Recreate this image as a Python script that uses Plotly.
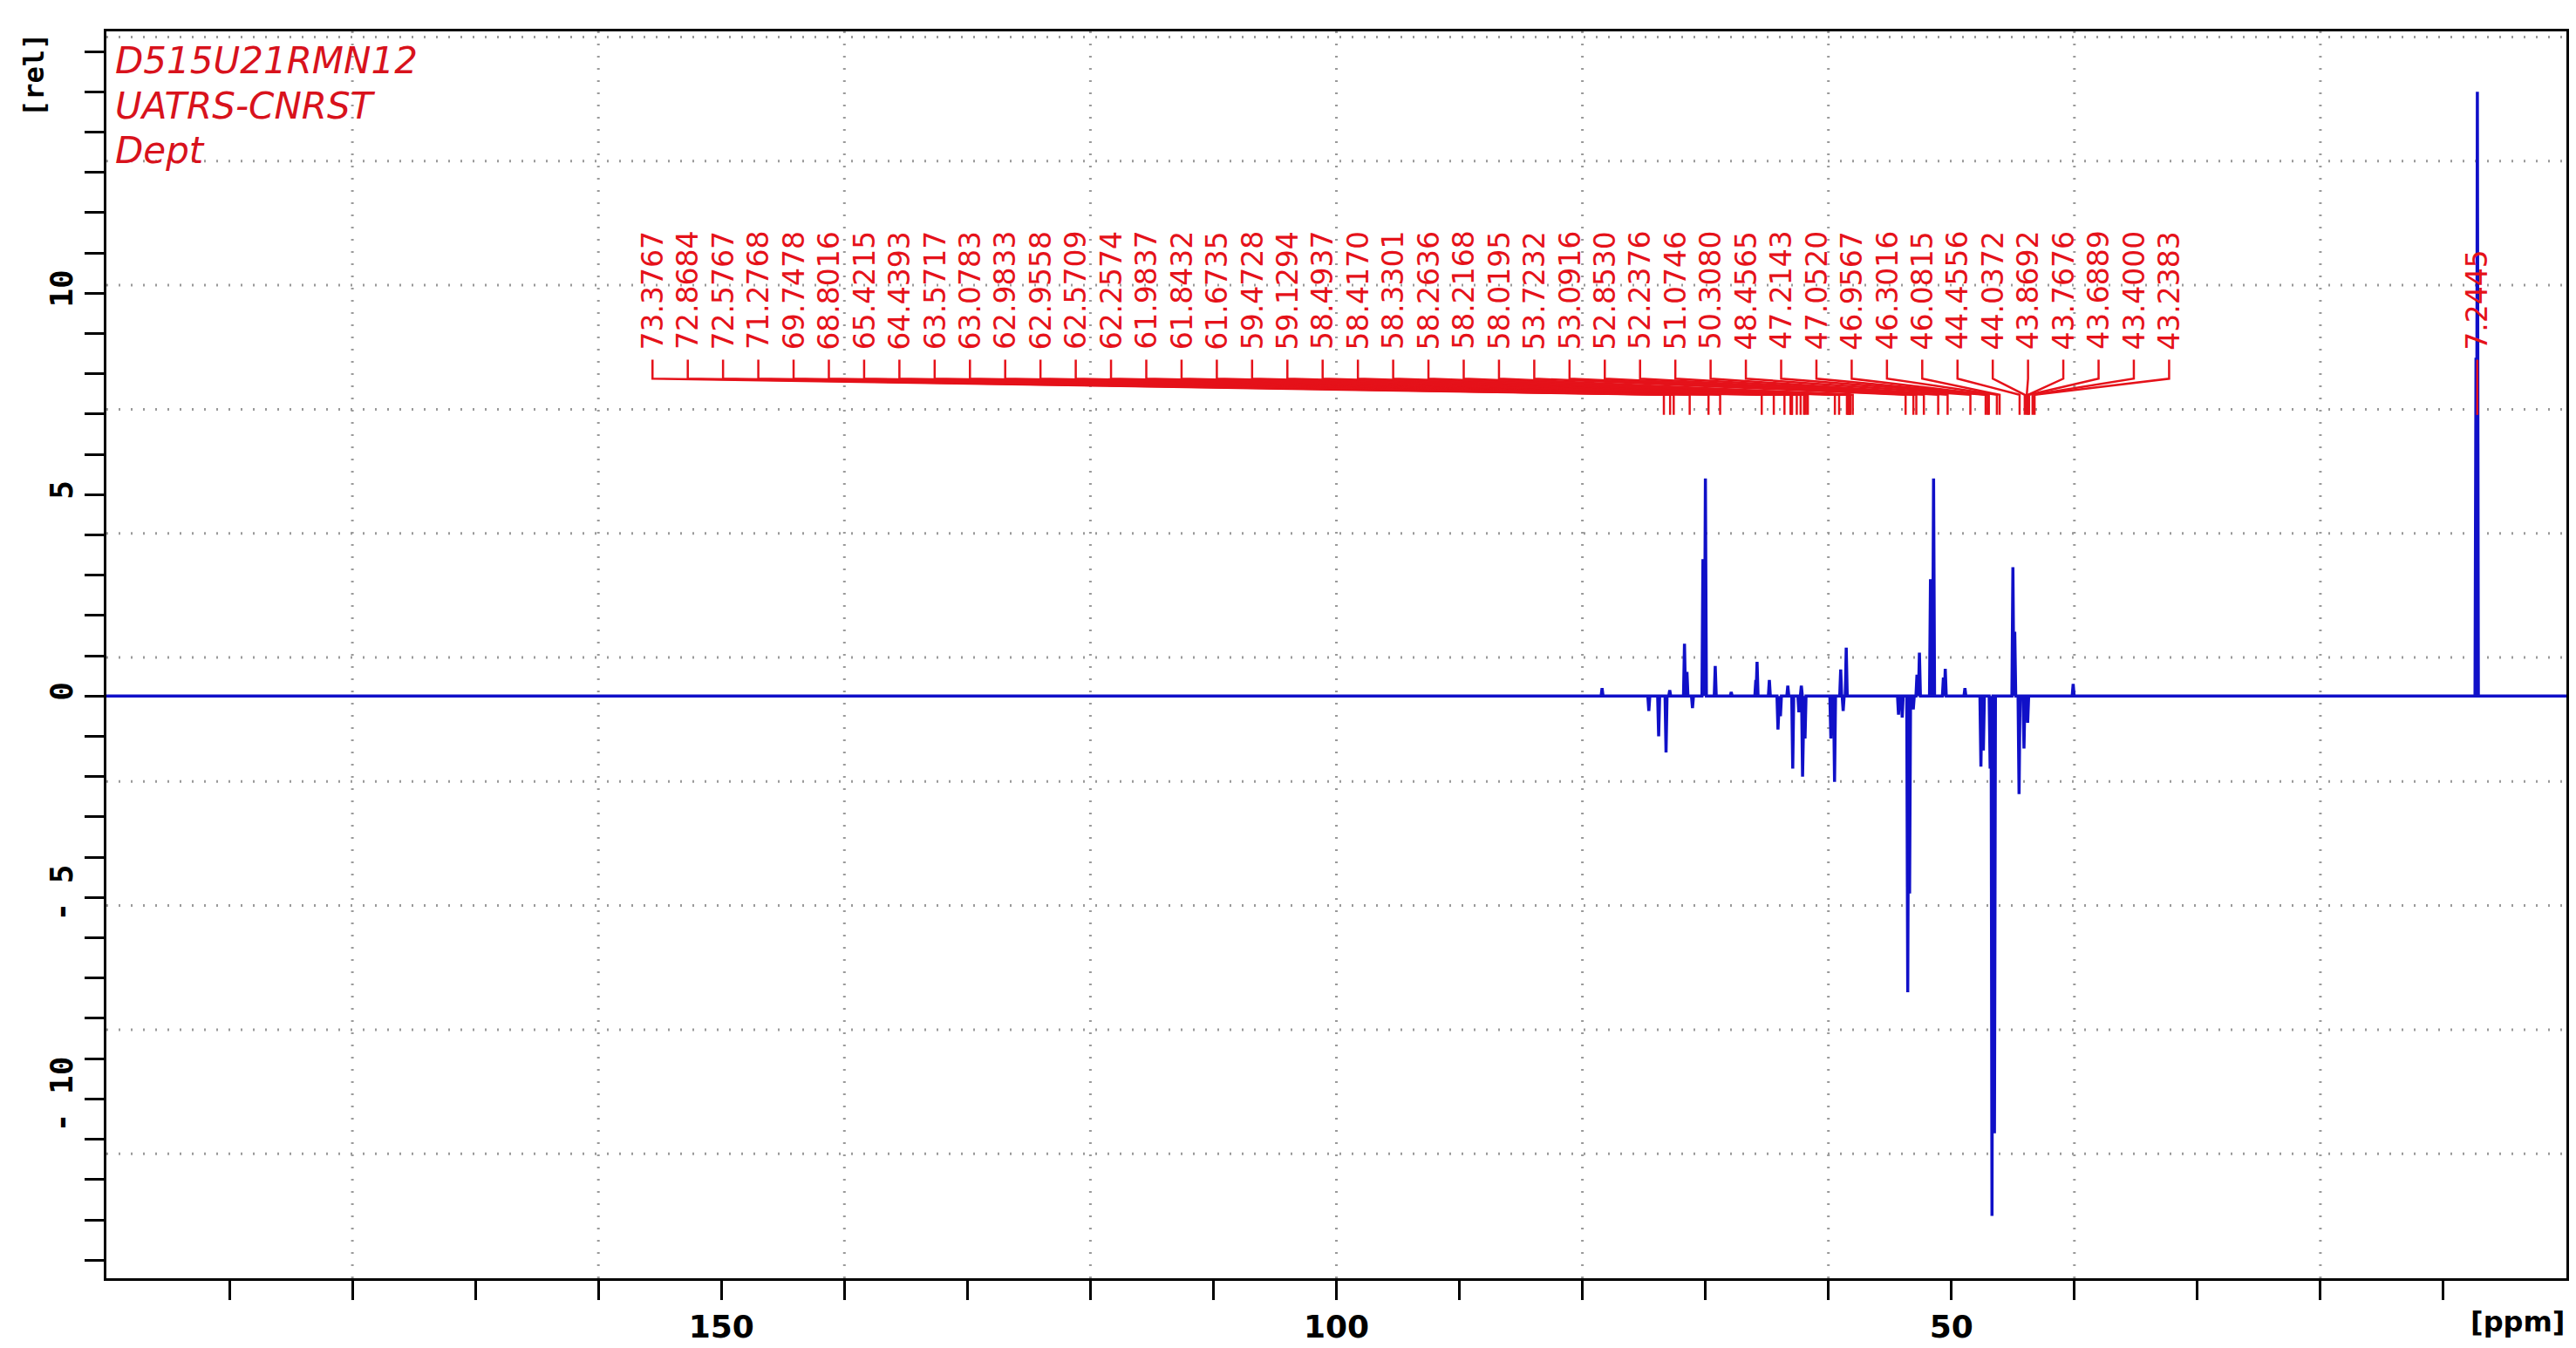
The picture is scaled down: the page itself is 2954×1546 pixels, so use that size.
import numpy as np
import plotly.graph_objects as go

# DEPT-135 spectrum: peak positions (ppm) and relative intensities
peak_ppm = [78.4, 74.6, 73.8, 73.2, 72.9, 71.7, 71.5, 71.05, 70.2, 70.0, 69.2, 67.9,
            65.9, 65.8, 64.8, 64.1, 63.9, 63.3, 62.9, 62.4, 62.2, 62.1, 61.9,
            59.8, 59.5, 59.0, 58.8, 58.55, 54.3, 54.0, 53.55, 53.4, 53.1, 52.8,
            52.6, 51.7, 51.45, 50.65, 50.5, 48.9, 47.6, 47.4, 46.85, 46.7, 46.5,
            45.0, 44.85, 44.5, 44.1, 43.8, 40.1, 7.35, 7.24]
peak_height = [0.2, -0.37, -1.0, -1.4, 0.15, 1.3, 0.6, -0.3, 3.4, 5.4, 0.75, 0.1,
               0.4, 0.85, 0.4, -0.83, -0.5, 0.26, -1.8, -0.4, 0.26, -2.0, -1.05,
               -1.05, -2.13, 0.66, -0.37, 1.2, -0.46, -0.53, -7.35, -4.9, -0.33, 0.53,
               1.08, 2.9, 5.4, 0.46, 0.68, 0.2, -1.75, -1.35, -1.8, -12.9, -10.85,
               3.2, 1.6, -2.43, -1.3, -0.66, 0.3, 8.4, 15.0]

peak_labels = ["73.3767", "72.8684", "72.5767", "71.2768", "69.7478", "68.8016", "65.4215",
               "64.4393", "63.5717", "63.0783", "62.9833", "62.9558", "62.5709", "62.2574",
               "61.9837", "61.8432", "61.6735", "59.4728", "59.1294", "58.4937", "58.4170",
               "58.3301", "58.2636", "58.2168", "58.0195", "53.7232", "53.0916", "52.8530",
               "52.2376", "51.0746", "50.3080", "48.4565", "47.2143", "47.0520", "46.9567",
               "46.3016", "46.0815", "44.4556", "44.0372", "43.8692", "43.7676", "43.6889",
               "43.4000", "43.2383"]
solvent_label = "7.2445"

header_lines = ["D515U21RMN12", "UATRS-CNRST", "Dept"]
x_tick_labels = {150: "150", 100: "100", 50: "50"}
y_tick_labels = {10: "10", 5: "5", 0: "0", -5: "- 5", -10: "- 10"}

RED = "#e5121a"
BLUE = "#1010c8"
X_RANGE = [200, 0]
Y_RANGE = [-14.45, 16.5]


def spectrum_xy():
    """Build a stick-style spectrum from the peak table."""
    order = np.argsort(peak_ppm)[::-1]
    xs, ys = [X_RANGE[0]], [0.0]
    for i in order:
        p, h = peak_ppm[i], peak_height[i]
        xs += [p + 0.08, p, p - 0.08]
        ys += [0.0, h, 0.0]
    xs.append(X_RANGE[1])
    ys.append(0.0)
    return xs, ys


fig = go.Figure()
sx, sy = spectrum_xy()
fig.add_trace(go.Scatter(x=sx, y=sy, mode="lines",
                         line=dict(color=BLUE, width=3.5), hoverinfo="skip"))

# peak picking labels: evenly spread, then connected to their peak positions
label_x = np.linspace(155.6, 32.3, len(peak_labels))
lx, ly = [], []
for xl, txt in zip(label_x, peak_labels):
    p = float(txt)
    lx += [xl, xl, p, p, None]
    ly += [8.35, 7.88, 7.48, 6.98, None]
    fig.add_annotation(x=xl, y=8.55, text=txt, textangle=-90, showarrow=False,
                       yanchor="bottom", xanchor="center",
                       font=dict(family="DejaVu Sans", size=33, color=RED))
fig.add_trace(go.Scatter(x=lx, y=ly, mode="lines",
                         line=dict(color=RED, width=2.5), hoverinfo="skip"))
fig.add_trace(go.Scatter(x=[float(solvent_label)] * 2, y=[6.98, 8.35], mode="lines",
                         line=dict(color=RED, width=2.5), hoverinfo="skip"))
fig.add_annotation(x=float(solvent_label), y=8.55, text=solvent_label, textangle=-90,
                   showarrow=False, yanchor="bottom", xanchor="center",
                   font=dict(family="DejaVu Sans", size=33, color=RED))

for i, line in enumerate(header_lines):
    fig.add_annotation(xref="paper", yref="paper", x=0.003, y=0.995 - i * 0.036,
                       text="<i>" + line + "</i>", showarrow=False,
                       xanchor="left", yanchor="top",
                       font=dict(family="DejaVu Sans", size=42, color="#d8121c"))

# dotted grid
grid_x = list(range(20, 200, 20))
grid_y = [-11.36, -8.28, -5.2, -2.12, 0.96, 4.04, 7.12, 10.2, 13.28, 16.36]
grid_line = dict(color="#9a9a9a", width=3, dash="2px,12px")
for gx in grid_x:
    fig.add_shape(type="line", xref="x", yref="paper", x0=gx, x1=gx, y0=0, y1=1,
                  layer="below", line=grid_line)
for gy in grid_y:
    fig.add_shape(type="line", xref="paper", yref="y", x0=0, x1=1, y0=gy, y1=gy,
                  layer="below", line=grid_line)

x_ticks = list(range(190, 0, -10))
y_ticks = list(range(-14, 17))
fig.update_xaxes(range=X_RANGE, showgrid=False, zeroline=False,
                 showline=True, mirror=True, linecolor="black", linewidth=3,
                 ticks="outside", ticklen=22, tickwidth=3, tickcolor="black",
                 tickvals=x_ticks, ticktext=[x_tick_labels.get(v, "") for v in x_ticks],
                 tickfont=dict(family="DejaVu Sans", size=36, color="black", weight="bold"))
fig.update_yaxes(range=Y_RANGE, showgrid=False, zeroline=False,
                 showline=True, mirror=True, linecolor="black", linewidth=3,
                 ticks="outside", ticklen=22, tickwidth=3, tickcolor="black",
                 tickvals=y_ticks, ticktext=[y_tick_labels.get(v, "") for v in y_ticks],
                 tickangle=-90,
                 tickfont=dict(family="DejaVu Sans Mono", size=36, color="black", weight="bold"))

fig.add_annotation(xref="paper", yref="paper", x=-0.022, y=1.0, text="<b>[rel]</b>",
                   textangle=-90, showarrow=False, xanchor="right", yanchor="top",
                   font=dict(family="DejaVu Sans Mono", size=32, color="black"))
fig.add_annotation(xref="paper", yref="paper", x=1.0, y=-0.02, text="<b>[ppm]</b>",
                   showarrow=False, xanchor="right", yanchor="top",
                   font=dict(family="DejaVu Sans", size=32, color="black"))

fig.update_layout(width=2954, height=1546, showlegend=False,
                  margin=dict(l=114, r=19, t=28, b=88),
                  plot_bgcolor="white", paper_bgcolor="white")

fig.write_html("out.html")
